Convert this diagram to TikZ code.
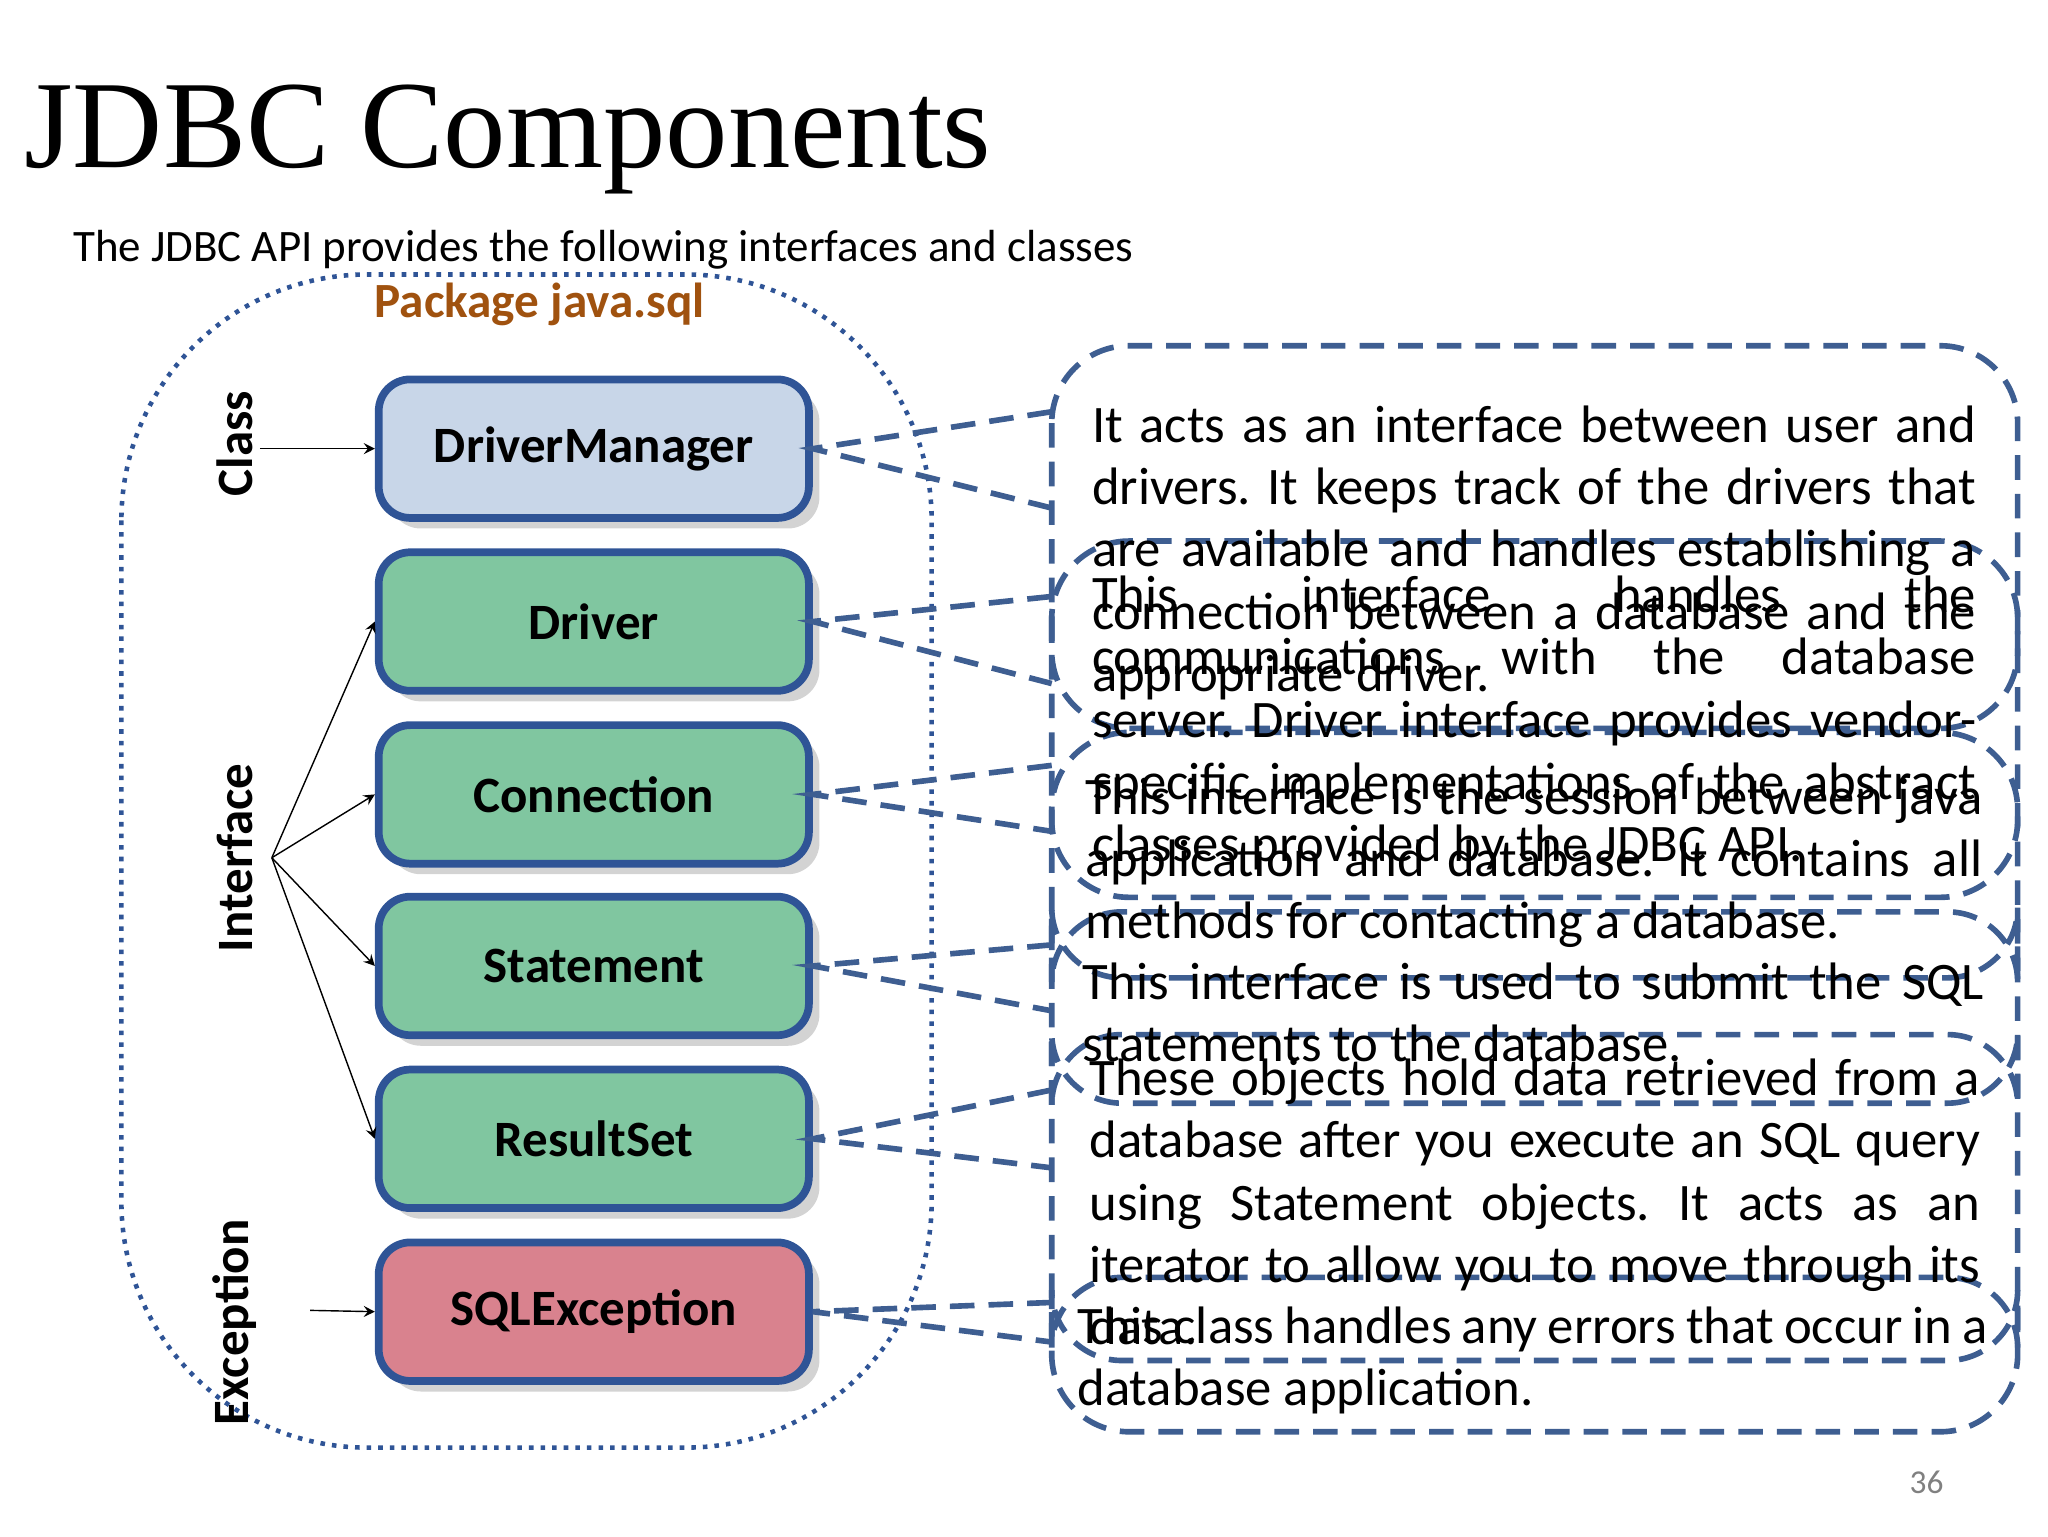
\documentclass[tikz,border=0pt]{standalone}
\usepackage{fontspec}
\setmainfont{Carlito}
\newfontfamily\titlefont{Liberation Serif}
\usetikzlibrary{shadows}
\definecolor{bord}{RGB}{47,84,150}
\definecolor{dsh}{RGB}{62,94,145}
\definecolor{fblue}{RGB}{200,214,232}
\definecolor{fgreen}{RGB}{128,198,160}
\definecolor{fred}{RGB}{217,130,142}
\definecolor{brown}{RGB}{160,82,15}
\newlength{\pxu}\setlength{\pxu}{0.013196cm}
\tikzset{
 comp/.style={draw=bord,line width=2.2pt,rounded corners=9pt,minimum width=326\pxu,minimum height=105\pxu,font=\fontsize{14.5}{17}\selectfont\bfseries,drop shadow={opacity=0.35,shadow xshift=3pt,shadow yshift=-3pt}},
 callout/.style={draw=dsh,line width=1.6pt,dash pattern=on 7pt off 4pt,rounded corners=22pt},
 link/.style={draw=dsh,line width=1.6pt,dash pattern=on 7pt off 4pt},
 desc/.style={anchor=north west,inner sep=0pt,align=justify,font=\fontsize{15}{17.7}\selectfont},
 side/.style={rotate=90,font=\fontsize{14.5}{17}\selectfont\bfseries},
 arr/.style={->,>=stealth,thin}
}
\begin{document}
\language=255
\frenchspacing
\begin{tikzpicture}[x=0.013196cm,y=-0.013196cm]
\useasboundingbox (0,0) rectangle (1552,1164);
\node[anchor=base west,inner sep=0pt,font=\titlefont\fontsize{35.5}{40}\selectfont] (title) at (18,127) {JDBC Components};
\node[anchor=base west,inner sep=0pt,font=\fontsize{12.8}{14}\selectfont] (sub) at (55,198) {The JDBC API provides the following interfaces and classes};
\draw[dotted,line width=1.3pt,draw=bord,rounded corners=70pt] (92,208) rectangle (706,1097);
\node[font=\fontsize{14}{16}\selectfont\bfseries,text=brown] (pkg) at (409,231) {Package java.sql};
% components
\node[comp,fill=fblue] (dm) at (450,340) {DriverManager};
\node[comp,fill=fgreen] (drv) at (450,471) {Driver};
\node[comp,fill=fgreen] (con) at (450,602) {Connection};
\node[comp,fill=fgreen] (st) at (450,732) {Statement};
\node[comp,fill=fgreen] (rs) at (450,863) {ResultSet};
\node[comp,fill=fred] (sqe) at (450,994) {SQLException};
% side labels
\node[side] (cls) at (178,336) {Class};
\node[side] (itf) at (178,650) {Interface};
\node[side] (exc) at (178,1002) {Exception};
\coordinate (ca) at (197,340);
\coordinate (ia) at (206,650);
\coordinate (ea) at (235,993);
\draw[arr] (ca) -- (dm.west);
\draw[arr] (ia) -- (drv.west);
\draw[arr] (ia) -- (con.west);
\draw[arr] (ia) -- (st.west);
\draw[arr] (ia) -- (rs.west);
\draw[arr] (ea) -- (sqe.west);
% callouts
\draw[callout] (797,262) rectangle (1529,1085);
\draw[callout] (797,410) rectangle (1529,552);
\draw[callout] (797,555) rectangle (1529,680);
\draw[callout,rounded corners=20pt] (797,691) rectangle (1529,741);
\draw[callout,rounded corners=20pt] (797,784) rectangle (1529,836);
\draw[callout,rounded corners=20pt] (797,968) rectangle (1529,1031);
\coordinate (p1a) at (797,312); \coordinate (p1b) at (797,385);
\coordinate (p2a) at (797,452); \coordinate (p2b) at (797,518);
\coordinate (p3a) at (797,580); \coordinate (p3b) at (797,630);
\coordinate (p4a) at (797,716); \coordinate (p4b) at (797,766);
\coordinate (p5a) at (797,826); \coordinate (p5b) at (797,885);
\coordinate (p6a) at (797,987); \coordinate (p6b) at (797,1017);
\draw[link] (p1a) -- (dm.east) -- (p1b);
\draw[link] (p2a) -- (drv.east) -- (p2b);
\draw[link] (p3a) -- (con.east) -- (p3b);
\draw[link] (p4a) -- (st.east) -- (p4b);
\draw[link] (p5a) -- (rs.east) -- (p5b);
\draw[link] (p6a) -- (sqe.east) -- (p6b);
% texts
\node[desc,text width=670\pxu] (t1) at (827,307) {It acts as an interface between user and drivers. It keeps track of the drivers that are available and handles establishing a connection between a database and the appropriate driver.};
\node[desc,text width=670\pxu] (t2) at (827,436) {This interface handles the communications with the database server. Driver interface provides vendor-specific implementations of the abstract classes provided by the JDBC API.};
\node[desc,text width=680\pxu] (t3) at (822,589) {This interface is the session between java application and database. It contains all methods for contacting a database.};
\node[desc,text width=683\pxu] (t4) at (820,729) {This interface is used to submit the SQL statements to the database.};
\node[desc,text width=675\pxu] (t5) at (825,802) {These objects hold data retrieved from a database after you execute an SQL query using Statement objects. It acts as an iterator to allow you to move through its data.};
\node[desc,text width=690\pxu] (t6) at (816,990) {This class handles any errors that occur in a database application.};
\node[font=\fontsize{9.5}{11}\selectfont,text=gray] (pg) at (1460,1123) {36};
\end{tikzpicture}
\end{document}
